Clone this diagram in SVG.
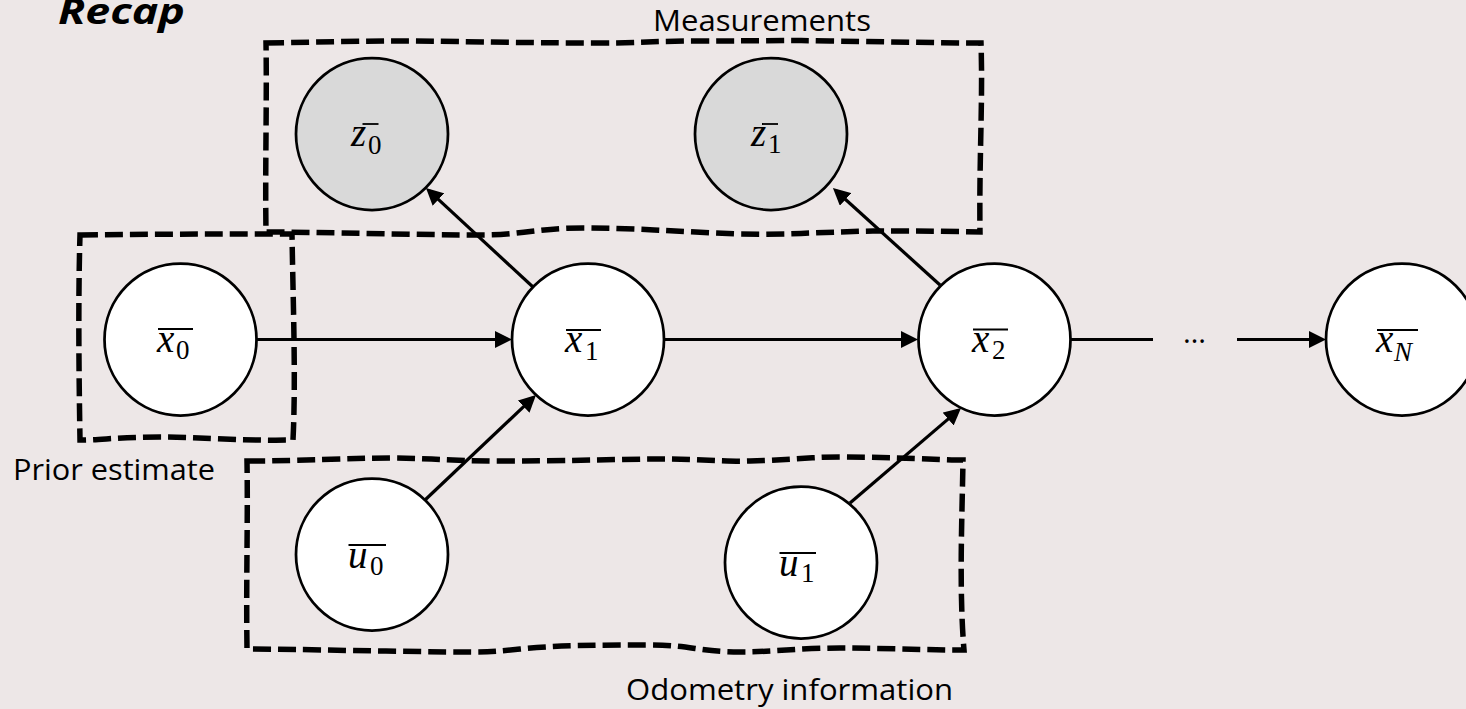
<svg xmlns="http://www.w3.org/2000/svg" width="1466" height="709" viewBox="0 0 1466 709">
<style>
.bg{fill:#EDE7E7}
.box{fill:none;stroke:#000;stroke-width:5.5;stroke-dasharray:18 7}
.node{fill:#fff;stroke:#000;stroke-width:2.75}
.obs{fill:#D9D9D9;stroke:#000;stroke-width:2.75}
.edge{fill:none;stroke:#000;stroke-width:3.2}
.arr{marker-end:url(#ah)}
.lbl{font-family:"Open Sans","Liberation Sans",sans-serif;font-size:30px;fill:#000}
.m{font-family:"Liberation Serif","DejaVu Serif",serif;font-style:italic;font-size:39px;fill:#000}
.sub{font-style:normal;font-size:27px}
.subi{font-style:italic;font-size:27px}
.bar{stroke:#000;stroke-width:1.8}
</style>
<defs>
<marker id="ah" markerUnits="userSpaceOnUse" markerWidth="17" markerHeight="17" refX="13" refY="8.5" orient="auto">
<path d="M0,0 L17,8.5 L0,17 Z" fill="#000"/>
</marker>
</defs>
<rect class="bg" x="0" y="0" width="1466" height="709"/>
<text x="58" y="24" font-family="'Open Sans','Liberation Sans',sans-serif" font-weight="bold" font-style="italic" font-size="36" textLength="127" lengthAdjust="spacingAndGlyphs">Recap</text>

<g id="box-measurements">
<path class="box" d="M266,43 C320,42 360,41 400,41 C440,41 520,43 600,43 C640,43 650,41 700,41 C760,41 790,40 830,41 C900,42 950,43 981,43 C983,100 979,160 980,232 C940,231 900,231 873,231 C820,232 790,235 740,234 C680,232 640,228 583,228 C540,228 520,235 483,235 C420,235 320,232 266,232 C265,170 267,100 266,43 Z"/>
<text class="lbl" x="653" y="31" textLength="218" lengthAdjust="spacingAndGlyphs">Measurements</text>
</g>
<g id="box-prior">
<path class="box" d="M80,235 C150,234 220,234 292,234 C293,300 296,380 293,440 C240,441 200,437 160,437 C120,437 100,440 80,440 C79,380 78,300 80,235 Z"/>
<text class="lbl" x="13" y="480" textLength="202" lengthAdjust="spacingAndGlyphs">Prior estimate</text>
</g>
<g id="box-odometry">
<path class="box" d="M247,461 C300,461 350,458 390,458 C430,458 450,461 500,461 C580,461 620,459 660,459 C700,459 730,462 750,461 C790,460 810,457 840,457 C900,457 940,460 963,460 C962,520 959,590 964,650 C920,650 880,648 840,648 C800,648 770,652 740,652 C700,652 690,645 650,645 C600,645 560,645 520,649 C500,651 490,652 473,652 C400,652 300,649 247,649 C246,580 248,520 247,461 Z"/>
<text class="lbl" x="626" y="700" textLength="327" lengthAdjust="spacingAndGlyphs">Odometry information</text>
</g>

<g id="connectors">
<line class="edge arr" x1="257" y1="339.5" x2="508" y2="339.5"/>
<line class="edge arr" x1="664" y1="339.5" x2="914" y2="339.5"/>
<line class="edge" x1="1071" y1="339.5" x2="1153" y2="339.5"/>
<text class="lbl" x="1183" y="343" textLength="23" lengthAdjust="spacingAndGlyphs">…</text>
<line class="edge arr" x1="1237" y1="339.5" x2="1322" y2="339.5"/>
<line class="edge arr" x1="533" y1="287" x2="428.9" y2="190.7"/>
<line class="edge arr" x1="940" y1="285" x2="835.9" y2="190.7"/>
<line class="edge arr" x1="425" y1="500" x2="533.1" y2="397.7"/>
<line class="edge arr" x1="850" y1="503" x2="958" y2="410.6"/>
</g>

<g id="node-z0">
<circle class="obs" cx="372" cy="134" r="76"/>
<text class="m" x="351" y="146">z<tspan class="sub" x="368" y="154">0</tspan></text>
<line class="bar" x1="362.5" y1="124" x2="378.5" y2="124"/>
</g>
<g id="node-z1">
<circle class="obs" cx="771" cy="134" r="76"/>
<text class="m" x="751" y="146">z<tspan class="sub" x="768" y="153">1</tspan></text>
<line class="bar" x1="762" y1="124" x2="778" y2="124"/>
</g>
<g id="node-x0">
<circle class="node" cx="180.5" cy="339.5" r="76"/>
<text class="m" x="157" y="352">x<tspan class="sub" x="176" y="359">0</tspan></text>
<line class="bar" x1="158" y1="329" x2="193" y2="329"/>
</g>
<g id="node-x1">
<circle class="node" cx="588" cy="339.5" r="76"/>
<text class="m" x="565" y="352">x<tspan class="sub" x="585" y="360">1</tspan></text>
<line class="bar" x1="566" y1="330" x2="601" y2="330"/>
</g>
<g id="node-x2">
<circle class="node" cx="994.5" cy="339.5" r="76"/>
<text class="m" x="972" y="352">x<tspan class="sub" x="992" y="359">2</tspan></text>
<line class="bar" x1="973" y1="329.5" x2="1008" y2="329.5"/>
</g>
<g id="node-xN">
<circle class="node" cx="1402" cy="339.5" r="76"/>
<text class="m" x="1376" y="352">x<tspan class="subi" x="1394" y="361">N</tspan></text>
<line class="bar" x1="1377" y1="330" x2="1418" y2="330"/>
</g>
<g id="node-u0">
<circle class="node" cx="372" cy="554.5" r="76"/>
<text class="m" x="348" y="568">u<tspan class="sub" x="370" y="575">0</tspan></text>
<line class="bar" x1="348.5" y1="545" x2="386" y2="545"/>
</g>
<g id="node-u1">
<circle class="node" cx="801" cy="562.5" r="76"/>
<text class="m" x="779" y="576">u<tspan class="sub" x="801" y="582">1</tspan></text>
<line class="bar" x1="779.5" y1="553" x2="816" y2="553"/>
</g>
</svg>
